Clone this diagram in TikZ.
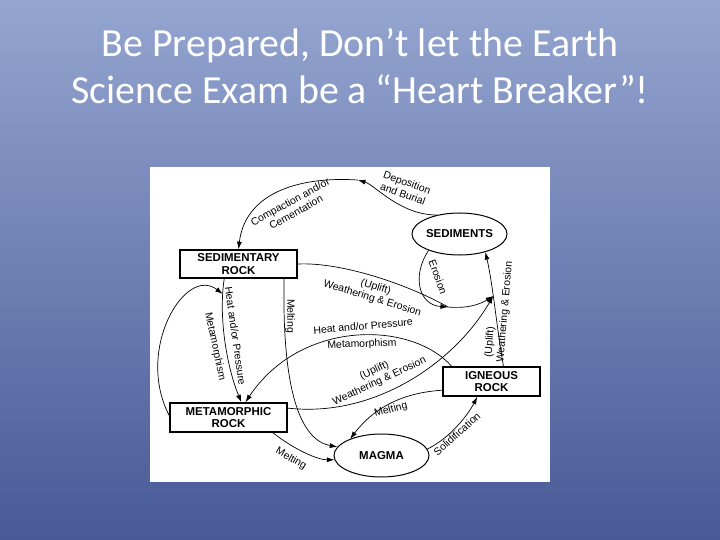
\documentclass[tikz,border=0pt]{standalone}
\usepackage{fontspec}
\setmainfont{Carlito}
\newfontfamily\labelfont{Liberation Sans}
\usetikzlibrary{shapes.geometric,arrows.meta}

\begin{document}
\begin{tikzpicture}[x=1bp,y=-1bp,
    title/.style={text=white,anchor=base,inner sep=0pt,font=\fontsize{40}{48}\selectfont},
    rockbox/.style={draw,line width=1.6bp,minimum width=117bp,minimum height=28bp,inner sep=0pt,align=center,
      font=\labelfont\bfseries\fontsize{11.5}{12.5}\selectfont},
    rockoval/.style={draw,ellipse,line width=1bp,minimum width=95bp,minimum height=42bp,inner sep=0pt,
      font=\labelfont\bfseries\fontsize{11.5}{12.5}\selectfont},
    link/.style={line width=0.7bp},
    flow/.style={link,-{Latex[length=7.5bp,width=5bp]}},
    tag/.style={inner sep=0pt,align=center,font=\labelfont\fontsize{10.5}{12}\selectfont}]
  \useasboundingbox (0,0) rectangle (720,540);
  \shade[top color={rgb,255:red,148;green,165;blue,208},bottom color={rgb,255:red,72;green,90;blue,150}]
    (0,0) rectangle (720,540);
  \node[title] (title1) at (360,57) {Be Prepared, Don’t let the Earth};
  \node[title] (title2) at (360,104) {Science Exam be a “Heart Breaker”!};
  \fill[white] (150,167) rectangle (550,482);

  \node[rockbox] (sedrock) at (238.5,264) {SEDIMENTARY\\ROCK};
  \node[rockbox,minimum width=97bp,minimum height=29bp] (igneous) at (491.5,381.5) {IGNEOUS\\ROCK};
  \node[rockbox,minimum height=29bp] (meta) at (228.5,417.5) {METAMORPHIC\\ROCK};
  \node[rockoval] (sed) at (459.5,234) {SEDIMENTS};
  \node[rockoval,minimum height=43bp] (magma) at (381.5,455.5) {MAGMA};
  \coordinate (burial) at (358,180);
  \coordinate (joint) at (448,307);

  % sediments -> sedimentary rock
  \draw[flow] (sed.140) .. controls (400,215) and (375,185) .. (burial);
  \draw[flow] (burial) .. controls (295,176) and (245,195) .. (sedrock.north);
  \node[tag,rotate=-20] (depo) at (405,188) {Deposition\\and Burial};
  \node[tag,rotate=29] (comp) at (293,207) {Compaction and/or\\Cementation};

  % heat and pressure
  \draw[flow] (sedrock.-134) .. controls (218,320) and (228,370) .. (meta.50) coordinate[pos=0.12] (hpjoin);
  \node[tag,rotate=-82] (heat1) at (235.5,336) {Heat and/or Pressure};
  \node[tag,rotate=-78] (morph1) at (215,346.5) {Metamorphism};
  \draw[flow] (meta.178) .. controls (135,350) and (185,265) .. (hpjoin);
  \draw[flow] (igneous.159) .. controls (410,320) and (300,320) .. (meta.42);
  \node[tag,rotate=5] (heat2) at (363,326) {Heat and/or Pressure};
  \node[tag,rotate=2] (morph2) at (362,344.5) {Metamorphism};

  % melting
  \draw[flow] (sedrock.-18) .. controls (282,390) and (300,440) .. (magma.169);
  \node[tag,rotate=-90] (melt1) at (290,316) {Melting};
  \draw[flow] (meta.-19) .. controls (295,450) and (318,460) .. (magma.185);
  \node[tag,rotate=-30] (melt2) at (291,459) {Melting};
  \draw[flow] (igneous.190) .. controls (415,392) and (380,400) .. (magma.152);
  \node[tag,rotate=15] (melt3) at (391,410) {Melting};

  % solidification
  \draw[flow] (magma.8) .. controls (450,438) and (468,415) .. (igneous.-133);
  \node[tag,rotate=42] (solid) at (457,434) {Solidification};

  % weathering and erosion
  \draw[flow] (igneous.52) .. controls (497,330) and (493,285) .. (sed.-35) coordinate[pos=0.6] (wejoin);
  \node[tag,rotate=86] (uplift3) at (490,342) {(Uplift)};
  \node[tag,rotate=85] (wear3) at (505,312) {Weathering \& Erosion};
  \draw[link] (sedrock.east) .. controls (340,262) and (405,283) .. (joint);
  \node[tag,rotate=-17] (wear1) at (374,293) {(Uplift)\\Weathering \& Erosion};
  \draw[flow] (sed.208) .. controls (412,275) and (418,305) .. (joint);
  \node[tag,rotate=-70] (erosion) at (438,277) {Erosion};
  \draw[flow] (joint) .. controls (470,309) and (482,303) .. (wejoin);
  \draw[flow] (meta.9) .. controls (375,418) and (455,362) .. (wejoin);
  \node[tag,rotate=25] (wear2) at (377,376) {(Uplift)\\Weathering \& Erosion};
\end{tikzpicture}
\end{document}
